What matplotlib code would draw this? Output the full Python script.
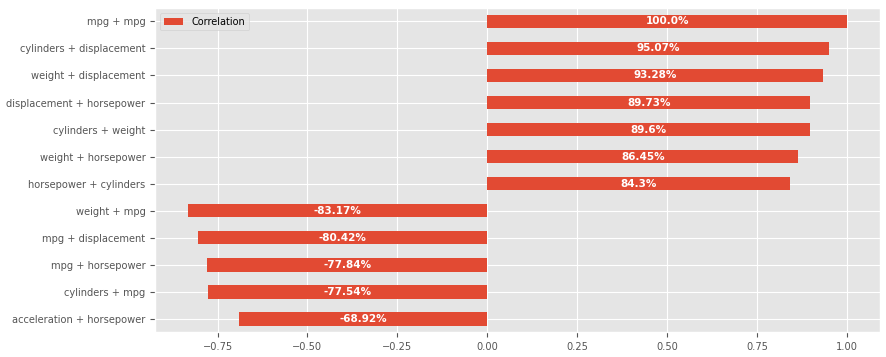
import pandas as pd
import matplotlib
matplotlib.use("Agg")
import matplotlib.pyplot as plt

plt.style.use('ggplot')

# pares de variaveis e correlacoes (de baixo para cima)
pairs = ['acceleration + horsepower', 'cylinders + mpg', 'mpg + horsepower',
         'mpg + displacement', 'weight + mpg', 'horsepower + cylinders',
         'weight + horsepower', 'cylinders + weight', 'displacement + horsepower',
         'weight + displacement', 'cylinders + displacement', 'mpg + mpg']
corr = [-0.6892, -0.7754, -0.7784, -0.8042, -0.8317, 0.843,
        0.8645, 0.896, 0.8973, 0.9328, 0.9507, 1.0]

df = pd.DataFrame({'Correlation': corr}, index=pairs)

fig, ax = plt.subplots(figsize=(8.87, 3.57), dpi=100)
df.plot(kind='barh', ax=ax, color='#E24A33')
ax.set_ylabel('')
ax.tick_params(labelsize=7.1)
ax.legend(loc='upper left', fontsize=7.0)

for i, v in enumerate(corr):
    ax.text(v / 2, i, f"{round(v * 100, 2)}%", ha='center', va='center',
            color='white', fontweight='bold', fontsize=7.5)

fig.subplots_adjust(left=0.175, right=0.992, top=0.978, bottom=0.069)
fig.savefig('out.png')
